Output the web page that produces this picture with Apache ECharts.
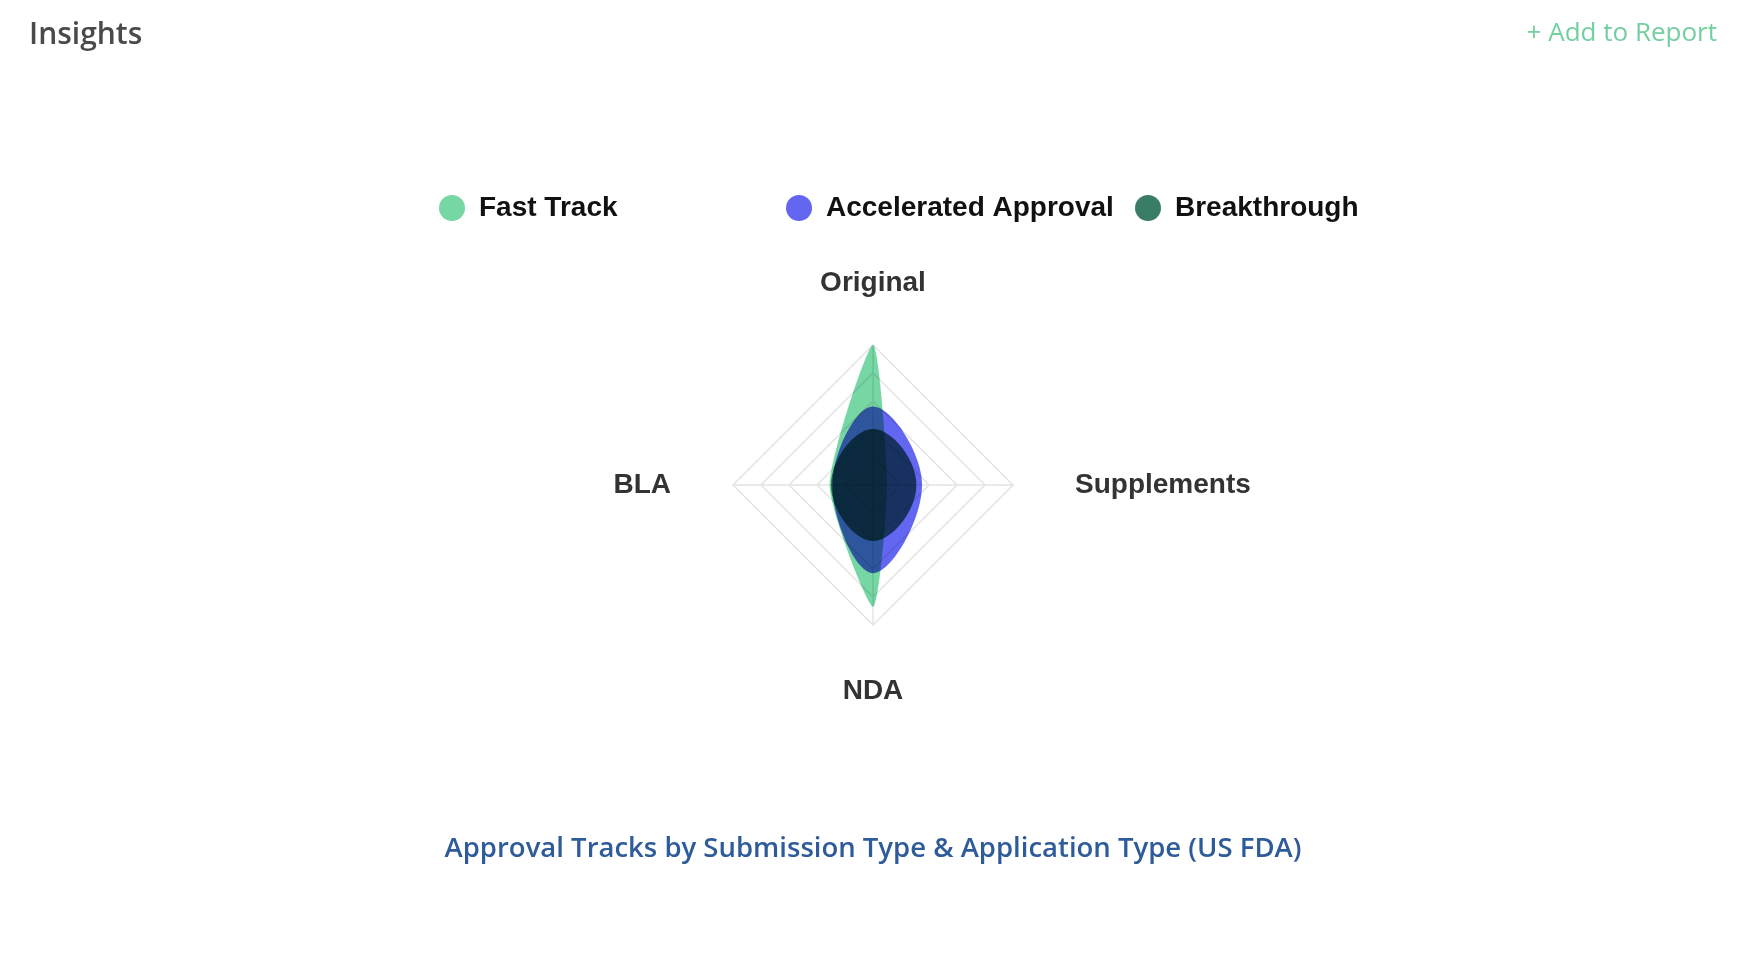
<!DOCTYPE html>
<html>
<head>
<meta charset="utf-8">
<script src="https://cdn.jsdelivr.net/npm/echarts@6/dist/echarts.min.js"></script>
<style>
  html, body { margin: 0; padding: 0; background: #ffffff; }
  #chart { width: 1747px; height: 973px; }
</style>
</head>
<body>
<div id="chart"></div>
<script>
// Categories, clockwise from the top
const categories = ['Original', 'Supplements', 'NDA', 'BLA'];
const seriesNames = ['Fast Track', 'Accelerated Approval', 'Breakthrough'];
const fastTrack = [100, 10, 87, 31];
const acceleratedApproval = [56, 35, 63, 29];
const breakthrough = [40, 31, 40, 30];
const axisMax = 100;

const seriesValues = [fastTrack, acceleratedApproval, breakthrough];
const colors = ['#76d7a5', '#6366f1', '#3a7d66'];
const smoothness = [0.2, 0.4, 0.45];
const CENTER = [873, 485];
const RADIUS = 140;

// radar indicators run counter-clockwise from the top
const radarOrder = [0, 3, 2, 1].map(i => categories[i]);

function makeSeries(idx) {
  const vals = seriesValues[idx];
  return {
    type: 'custom',
    name: seriesNames[idx],
    coordinateSystem: 'polar',
    blendMode: 'multiply',
    itemStyle: { color: colors[idx] },
    encode: { radius: 0, angle: 1 },
    data: vals.map((v, i) => [v, i]),
    renderItem: function (params, api) {
      if (params.dataIndex !== 0) return null;
      const pts = vals.map((v, i) => api.coord([v, i]));
      return {
        type: 'polygon',
        shape: { points: pts, smooth: smoothness[idx] },
        style: { fill: api.visual('color'), stroke: null }
      };
    }
  };
}

const legendBase = {
  icon: 'circle',
  itemWidth: 44,
  itemHeight: 26,
  top: 194,
  padding: 0,
  textStyle: { fontSize: 28, fontWeight: 'bold', color: '#111', fontFamily: 'Liberation Sans, Arial, sans-serif' }
};

const option = {
  backgroundColor: '#ffffff',
  color: colors,
  animation: false,
  legend: [
    Object.assign({}, legendBase, { left: 439, data: [seriesNames[0]] }),
    Object.assign({}, legendBase, { left: 786, data: [seriesNames[1]] }),
    Object.assign({}, legendBase, { left: 1135, data: [seriesNames[2]] })
  ],
  radar: {
    center: CENTER,
    radius: RADIUS,
    startAngle: 90,
    splitNumber: 5,
    shape: 'polygon',
    nameGap: 48,
    indicator: radarOrder.map(n => ({ name: n, max: axisMax, min: 0 })),
    axisName: {
      color: '#333',
      fontSize: 28,
      fontWeight: 'bold',
      fontFamily: 'Liberation Sans, Arial, sans-serif',
      padding: [4, 14, 0, 14]
    },
    splitLine: { lineStyle: { color: '#e4e4e4', width: 1.5 } },
    splitArea: { show: false },
    axisLine: { lineStyle: { color: '#e4e4e4', width: 1.5 } },
    axisTick: { show: false },
    axisLabel: { show: false }
  },
  polar: { center: CENTER, radius: RADIUS },
  angleAxis: {
    type: 'category',
    data: categories,
    startAngle: 90,
    clockwise: true,
    boundaryGap: false,
    show: false
  },
  radiusAxis: { min: 0, max: axisMax, show: false },
  series: [makeSeries(0), makeSeries(1), makeSeries(2)],
  graphic: [
    {
      type: 'text', x: 29, y: 35.5,
      style: { text: 'Insights', align: 'left', verticalAlign: 'middle',
        fontSize: 30, fontWeight: 600, fontFamily: 'Open Sans, sans-serif', fill: '#4a4a4a' }
    },
    {
      type: 'text', x: 1717, y: 34,
      style: { text: '+ Add to Report', align: 'right', verticalAlign: 'middle',
        fontSize: 26, fontWeight: 400, fontFamily: 'Open Sans, sans-serif', fill: '#72cf9f' }
    },
    {
      type: 'text', x: 873, y: 849,
      style: { text: 'Approval Tracks by Submission Type & Application Type (US FDA)', align: 'center', verticalAlign: 'middle',
        fontSize: 27.5, fontWeight: 600, fontFamily: 'Open Sans, sans-serif', fill: '#2e5b9a' }
    }
  ]
};

const chart = echarts.init(document.getElementById('chart'), null, { renderer: 'canvas' });
chart.setOption(option);
</script>
</body>
</html>
